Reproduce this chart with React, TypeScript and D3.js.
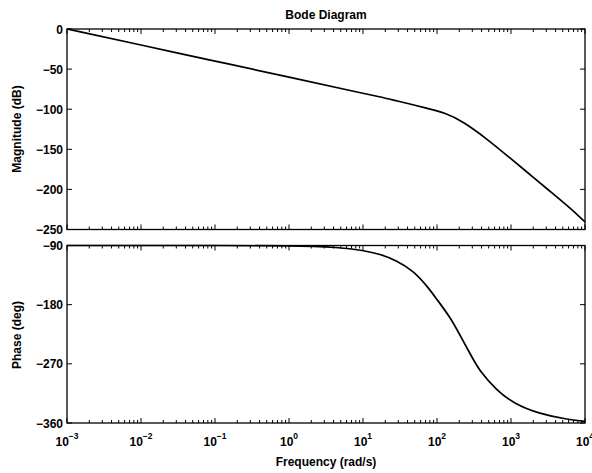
import React from "react";
import * as d3 from "d3";

// Frequencies (rad/s) and magnitude (dB)
const magFreq = [0.001, 0.01, 0.1, 1, 10, 17, 24.7, 47.9, 58.9, 136.5, 224, 463, 968, 1806, 3365, 6266, 10000];
const magDb = [0, -20, -40, -60, -80.2, -84.6, -88.2, -94.6, -96.6, -105.1, -115.6, -136.3, -160.8, -181.5, -202.3, -223.0, -240.5];

// Frequencies (rad/s) and phase (deg)
const phaseFreq = [0.001, 0.01, 0.1, 1, 4.89, 10.1, 17, 28.5, 47.9, 72.6, 99, 150, 205, 279, 381, 641, 1075, 2466, 5664, 10000];
const phaseDeg = [-90, -90, -90, -90.2, -92.6, -97.5, -103, -113, -128.5, -151, -171.5, -198.8, -226.5, -254.3, -282.2, -310, -330.1, -346.4, -354.4, -357.5];

const magTicks = [0, -50, -100, -150, -200, -250];
const phaseTicks = [-90, -180, -270, -360];
const freqExponents = [-3, -2, -1, 0, 1, 2, 3, 4];

const title = "Bode Diagram";
const magLabel = "Magnitude (dB)";
const phaseLabel = "Phase (deg)";
const freqLabel = "Frequency  (rad/s)";

const W = 592;
const H = 473;
const X0 = 67;
const X1 = 585;
const FONT = "'Liberation Sans', Arial, Helvetica, sans-serif";
const minus = (s: string) => s.replace("-", "\u2212");

type PanelProps = {
  top: number;
  bottom: number;
  domain: [number, number];
  ticks: number[];
  freq: number[];
  vals: number[];
  label: string;
  labelY: number;
  x: d3.ScaleLogarithmic<number, number>;
};

function Panel({ top, bottom, domain, ticks, freq, vals, label, labelY, x }: PanelProps) {
  const y = d3.scaleLinear().domain(domain).range([top, bottom]);
  const pts = freq.map((f, i) => [x(f), y(vals[i])] as [number, number]);
  const line = d3.line().curve(d3.curveBasis)(pts) || "";
  const majorX = freqExponents.map((e) => Math.pow(10, e));
  const minorX: number[] = [];
  freqExponents.slice(0, -1).forEach((e) => {
    for (let k = 2; k <= 9; k++) minorX.push(k * Math.pow(10, e));
  });
  return (
    <g>
      <rect x={X0} y={top} width={X1 - X0} height={bottom - top} fill="white" stroke="none" />
      {majorX.map((f, i) => (
        <g key={"mx" + i}>
          <line x1={x(f)} x2={x(f)} y1={top} y2={top + 5} stroke="#000" strokeWidth={1} />
          <line x1={x(f)} x2={x(f)} y1={bottom} y2={bottom - 5} stroke="#000" strokeWidth={1} />
        </g>
      ))}
      {minorX.map((f, i) => (
        <g key={"nx" + i}>
          <line x1={x(f)} x2={x(f)} y1={top} y2={top + 3} stroke="#000" strokeWidth={1} />
          <line x1={x(f)} x2={x(f)} y1={bottom} y2={bottom - 3} stroke="#000" strokeWidth={1} />
        </g>
      ))}
      {ticks.map((t, i) => (
        <g key={"ty" + i}>
          <line x1={X0} x2={X0 + 5} y1={y(t)} y2={y(t)} stroke="#000" strokeWidth={1} />
          <line x1={X1} x2={X1 - 5} y1={y(t)} y2={y(t)} stroke="#000" strokeWidth={1} />
          <text x={X0 - 4} y={y(t) + 4.5} textAnchor="end" fontSize={12} fontWeight="bold" fontFamily={FONT} fill="#000">
            {minus(String(t))}
          </text>
        </g>
      ))}
      <path d={line} fill="none" stroke="#000" strokeWidth={1.7} strokeLinejoin="round" />
      <rect x={X0} y={top} width={X1 - X0} height={bottom - top} fill="none" stroke="#000" strokeWidth={1.3} />
      <text
        transform={`translate(21,${labelY}) rotate(-90)`}
        textAnchor="middle"
        fontSize={12}
        fontWeight="bold"
        fontFamily={FONT}
        fill="#000"
      >
        {label}
      </text>
    </g>
  );
}

export default function App() {
  const x = d3.scaleLog().domain([1e-3, 1e4]).range([X0, X1]);
  return (
    <svg
      width={W}
      height={H}
      viewBox={`0 0 ${W} ${H}`}
      style={{ position: "fixed", left: 0, top: 0, background: "white" }}
    >
      <rect x={0} y={0} width={W} height={H} fill="white" />
      <text x={(X0 + X1) / 2} y={19} textAnchor="middle" fontSize={12} fontWeight="bold" fontFamily={FONT} fill="#000">
        {title}
      </text>
      <Panel top={29} bottom={229.5} domain={[0, -250]} ticks={magTicks} freq={magFreq} vals={magDb} label={magLabel} labelY={129} x={x} />
      <Panel top={245.5} bottom={423} domain={[-90, -360]} ticks={phaseTicks} freq={phaseFreq} vals={phaseDeg} label={phaseLabel} labelY={335} x={x} />
      {freqExponents.map((e, i) => (
        <text key={"xl" + i} x={x(Math.pow(10, e))} y={446} textAnchor="middle" fontFamily={FONT} fontWeight="bold" fill="#000">
          <tspan fontSize={12}>10</tspan>
          <tspan fontSize={8.5} dy={-7}>{minus(String(e))}</tspan>
        </text>
      ))}
      <text x={(X0 + X1) / 2} y={466} textAnchor="middle" fontSize={12} fontWeight="bold" fontFamily={FONT} fill="#000">
        {freqLabel}
      </text>
    </svg>
  );
}
